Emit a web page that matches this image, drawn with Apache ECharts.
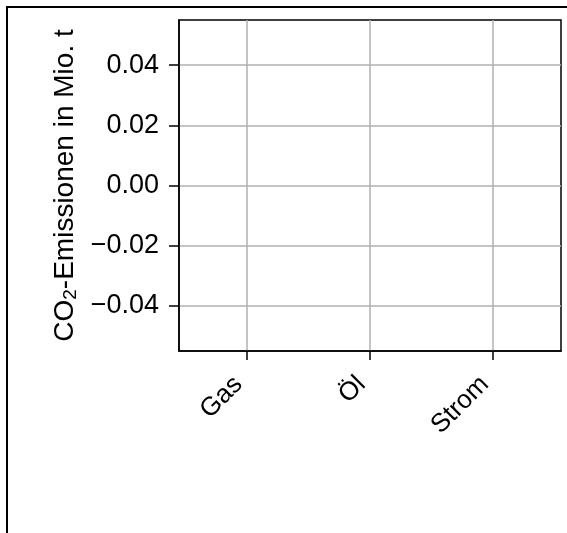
<!DOCTYPE html>
<html>
<head>
<meta charset="utf-8">
<script src="https://cdn.jsdelivr.net/npm/echarts@6/dist/echarts.min.js"></script>
<style>
html,body{margin:0;padding:0;background:#fff;}
#chart{width:567px;height:533px;}
</style>
</head>
<body>
<div id="chart"></div>
<script>
const categories = ['Gas', 'Öl', 'Strom'];
const values = [null, null, null];
const yTicks = [-0.04, -0.02, 0.00, 0.02, 0.04];
const yTitle = 'CO{sub|2}-Emissionen in Mio. t';

const FONT = '"Liberation Sans", Arial, sans-serif';
const catIdx = categories.map((c, i) => i);

const chart = echarts.init(document.getElementById('chart'), null, {renderer: 'canvas'});
chart.setOption({
  animation: false,
  backgroundColor: '#fff',
  graphic: [{
    type: 'rect',
    shape: {x: 7, y: 7, width: 620, height: 600},
    style: {fill: 'none', stroke: '#000', lineWidth: 2},
    silent: true,
    z: 100
  }],
  grid: {
    left: 179, right: 6, top: 20, bottom: 182,
    show: true, borderColor: '#000', borderWidth: 1.5, backgroundColor: 'transparent'
  },
  xAxis: {
    type: 'value',
    min: -0.55, max: 2.55,
    axisLine: {show: true, onZero: false, lineStyle: {color: '#000', width: 1.5}},
    axisTick: {show: true, customValues: catIdx, length: 9, lineStyle: {color: '#000', width: 1.5}},
    axisLabel: {
      customValues: catIdx,
      formatter: v => categories[Math.round(v)] || '',
      rotate: 45, margin: 21,
      padding: [0, 12, 0, 0],
      fontFamily: FONT, fontSize: 26, color: '#000'
    },
    splitLine: {show: true, lineStyle: {color: '#b0b0b0', width: 1.5}}
  },
  yAxis: {
    type: 'value',
    min: -0.055, max: 0.055,
    name: yTitle,
    nameLocation: 'middle',
    nameRotate: 90,
    nameGap: 97,
    nameTextStyle: {
      fontFamily: FONT, fontSize: 28, color: '#000',
      rich: {sub: {fontFamily: FONT, fontSize: 19, color: '#000', verticalAlign: 'bottom', padding: [10, 0, 0, 0]}}
    },
    axisLine: {show: true, onZero: false, lineStyle: {color: '#000', width: 1.5}},
    axisTick: {show: true, customValues: yTicks, length: 10, lineStyle: {color: '#000', width: 1.5}},
    axisLabel: {
      customValues: yTicks,
      formatter: v => (v < 0 ? '\u2212' : '') + Math.abs(v).toFixed(2),
      margin: 20,
      fontFamily: FONT, fontSize: 27, color: '#000'
    },
    splitLine: {show: true, lineStyle: {color: '#b0b0b0', width: 1.5}}
  },
  series: [{
    type: 'bar',
    data: catIdx.map(i => [i, values[i]]),
    itemStyle: {color: '#1f77b4'}
  }]
});
</script>
</body>
</html>
